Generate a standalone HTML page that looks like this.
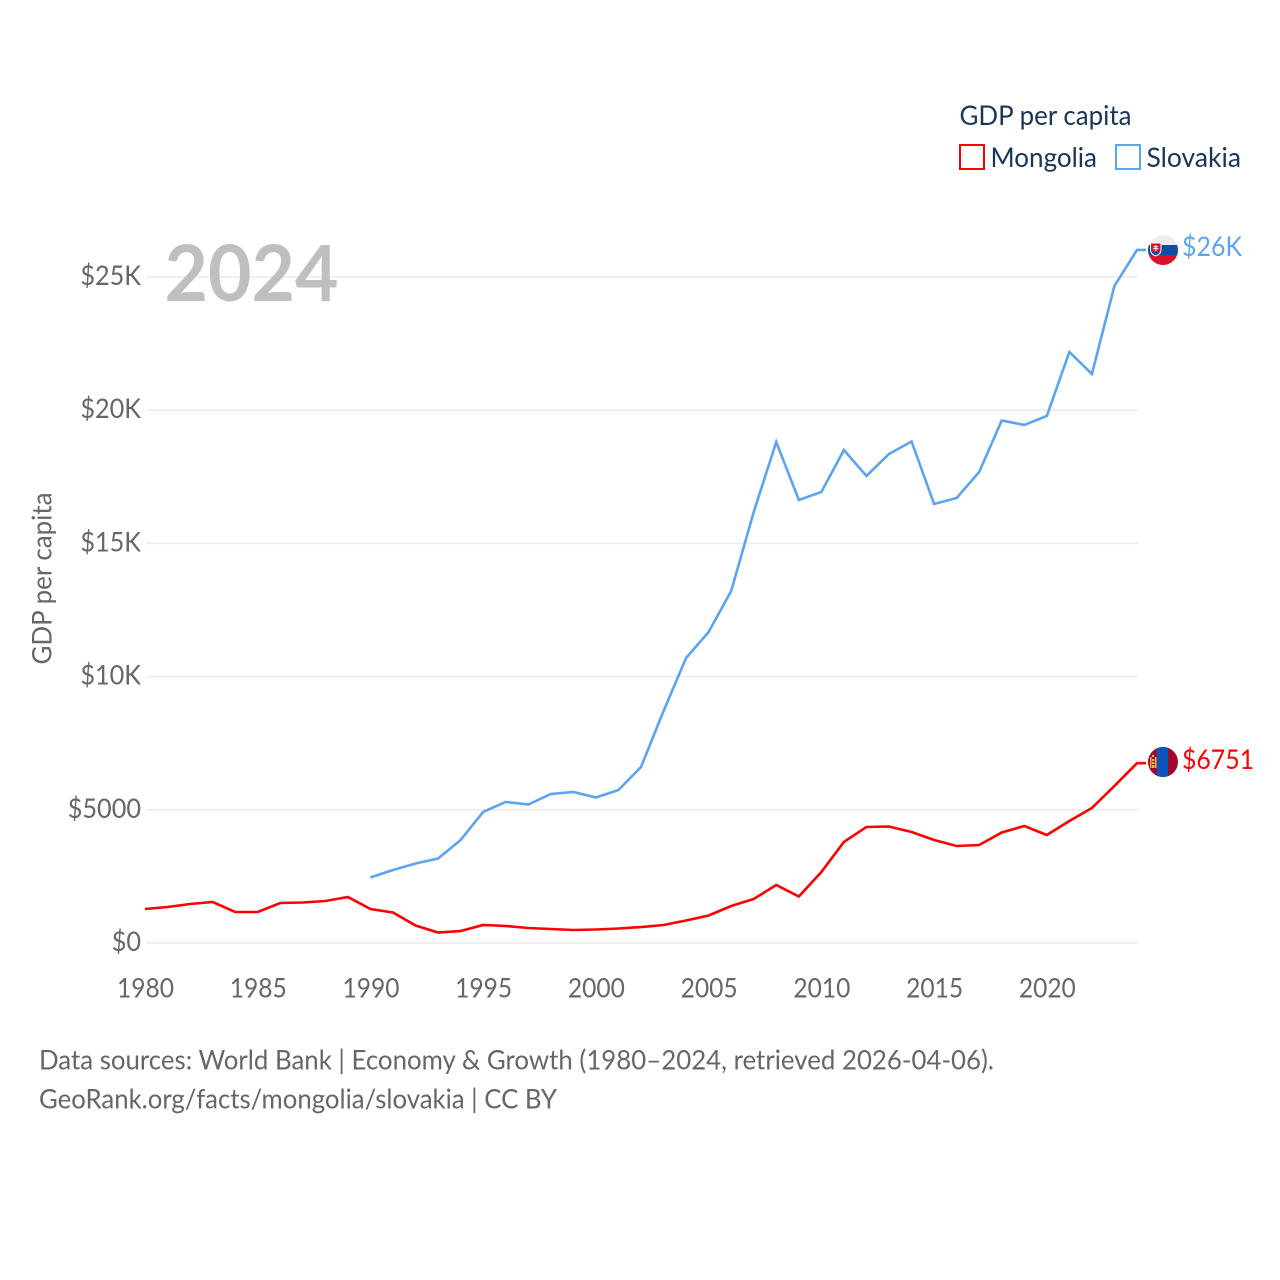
<!DOCTYPE html>
<html lang="en">
<head>
<meta charset="utf-8">
<title>GDP per capita: Mongolia vs Slovakia</title>
<style>
html,body{margin:0;padding:0;background:#fff;}
svg{display:block;}
text{font-family:Lato,Carlito,"Liberation Sans",sans-serif;}
</style>
</head>
<body>
<svg id="chart" xmlns="http://www.w3.org/2000/svg" width="1280" height="1280" viewBox="0 0 1280 1280">
  <defs>
    <clipPath id="clip-sk"><circle cx="1163" cy="250" r="15"></circle></clipPath>
    <clipPath id="clip-mn"><circle cx="1163" cy="762" r="15"></circle></clipPath>
  </defs>
  <g id="grid"></g>
  <text x="164.500" y="301" font-size="78" font-weight="700" fill="#bfbfbf" textLength="174" lengthAdjust="spacingAndGlyphs">2024</text>
  <g id="yticks"></g>
  <g id="xticks"></g>
  <text transform="translate(51.500,578.500) rotate(-90)" text-anchor="middle" font-size="27" fill="#666" textLength="172" lengthAdjust="spacingAndGlyphs">GDP per capita</text>
  <g id="lines"></g>

  <g clip-path="url(#clip-sk)">
    <rect x="1148" y="235" width="30" height="10" fill="#eeeeee"></rect>
    <rect x="1148" y="245" width="30" height="10" fill="#0b4ea2"></rect>
    <rect x="1148" y="255" width="30" height="10" fill="#dc0f2b"></rect>
    <path d="M1150 242.500h11.500v7.500q0 4.500-5.750 6.500q-5.750-2-5.750-6.500z" fill="#fff"></path>
    <path d="M1151 243.500h9.500v6.500q0 3.700-4.750 5.400q-4.750-1.700-4.750-5.400z" fill="#dc0f2b"></path>
    <path d="M1151.800 252q1.500-1.500 2.500-.8q1-1.200 3 0q1-.7 2.400.8q-1.500 2.300-3.950 3q-2.450-.7-3.950-3z" fill="#0b4ea2"></path>
    <path d="M1155.300 245h1v1.200h1.800v1h-1.800v1h2.300v1h-2.300v2h-1v-2h-2.300v-1h2.300v-1h-1.800v-1h1.800z" fill="#fff"></path>
  </g>
  <g clip-path="url(#clip-mn)">
    <rect x="1148" y="747" width="30" height="30" fill="#9c0a2e"></rect>
    <rect x="1157" y="747" width="11" height="30" fill="#0b55bd"></rect>
    <rect x="1150" y="757" width="1.500" height="11" fill="#e8b84a"></rect>
    <rect x="1155" y="757" width="1.500" height="11" fill="#e8b84a"></rect>
    <rect x="1152" y="759" width="2.500" height="2" fill="#e8b84a"></rect>
    <rect x="1152" y="762" width="2.500" height="2" fill="#e8b84a"></rect>
    <rect x="1152" y="765" width="2.500" height="3" fill="#e8b84a"></rect>
    <circle cx="1153" cy="756" r="1.200" fill="#e8b84a"></circle>
  </g>

  <text x="1182" y="256" font-size="27" fill="#5ba4ef" textLength="60" lengthAdjust="spacingAndGlyphs">$26K</text>
  <text x="1182" y="769" font-size="27" fill="#ff0000" textLength="72" lengthAdjust="spacingAndGlyphs">$6751</text>

  <g>
    <text x="959.500" y="125" font-size="27" fill="#1a3557" textLength="172" lengthAdjust="spacingAndGlyphs">GDP per capita</text>
    <g>
      <rect x="960" y="145" width="24" height="24" fill="#fff" stroke="#ff0000" stroke-width="2"></rect>
      <text x="990.500" y="167" font-size="27" fill="#1a3557" textLength="106.500" lengthAdjust="spacingAndGlyphs">Mongolia</text>
    </g>
    <g>
      <rect x="1116" y="145" width="24" height="24" fill="#fff" stroke="#5ba4ef" stroke-width="2"></rect>
      <text x="1146.500" y="167" font-size="27" fill="#1a3557" textLength="94.500" lengthAdjust="spacingAndGlyphs">Slovakia</text>
    </g>
  </g>

  <text x="39" y="1069.500" font-size="27" fill="#666" textLength="955" lengthAdjust="spacingAndGlyphs">Data sources: World Bank | Economy &amp; Growth (1980–2024, retrieved 2026-04-06).</text>
  <text x="39" y="1108.500" font-size="27" fill="#666" textLength="518" lengthAdjust="spacingAndGlyphs">GeoRank.org/facts/mongolia/slovakia | CC BY</text>
</svg>
<script>
const years = [1980,1981,1982,1983,1984,1985,1986,1987,1988,1989,1990,1991,1992,1993,1994,1995,1996,1997,1998,1999,2000,2001,2002,2003,2004,2005,2006,2007,2008,2009,2010,2011,2012,2013,2014,2015,2016,2017,2018,2019,2020,2021,2022,2023,2024];
const mongolia = [1276,1351,1464,1539,1164,1164,1502,1520,1577,1727,1276,1145,657,394,450,676,638,563,526,488,507,544,600,676,845,1032,1389,1652,2177,1746,2665,3792,4355,4373,4167,3867,3641,3679,4148,4392,4054,4580,5068,5894,6751];
const slovakia = [null,null,null,null,null,null,null,null,null,null,2459,2740,2984,3172,3867,4918,5293,5199,5593,5669,5462,5744,6607,8709,10699,11675,13214,16180,18808,16630,16931,18507,17531,18357,18826,16480,16705,17681,19615,19446,19784,22186,21360,24664,26015];
const yTickValues = [0,5000,10000,15000,20000,25000];
const yTickLabels = ["$0","$5000","$10K","$15K","$20K","$25K"];
const xTickValues = [1980,1985,1990,1995,2000,2005,2010,2015,2020];
const xTickLabels = ["1980","1985","1990","1995","2000","2005","2010","2015","2020"];

const NS = "http://www.w3.org/2000/svg";
function xScale(year){ return 146 + (year - 1980) * (1138 - 146) / 44; }
function lineX(year){ return xScale(year) - 1; }
function yScale(v){ return 943 - v * (943 - 277) / 25000; }
function make(tag, attrs, parent){
  const el = document.createElementNS(NS, tag);
  for (const k in attrs) el.setAttribute(k, attrs[k]);
  parent.appendChild(el);
  return el;
}

const grid = document.getElementById('grid');
const yticks = document.getElementById('yticks');
const xticks = document.getElementById('xticks');
const lines = document.getElementById('lines');

yTickValues.forEach(function(v, i){
  const gl = make('line', {x1:146, x2:1138, y1:yScale(v), y2:yScale(v), stroke:'#ebebeb', 'stroke-width':1.5}, grid);
  
  
  const t = make('text', {x:141, y:yScale(v) + 8, 'text-anchor':'end', 'font-size':27, fill:'#666'}, yticks);
  
  
  t.textContent = yTickLabels[i];
  t.setAttribute('textLength', (t.getComputedTextLength() * 0.935).toFixed(2));
  t.setAttribute('lengthAdjust', 'spacingAndGlyphs');
});

xTickValues.forEach(function(v, i){
  const t = make('text', {x:xScale(v) - 0.5, y:997.5, 'text-anchor':'middle', 'font-size':27, fill:'#666', textLength:57, lengthAdjust:'spacingAndGlyphs'}, xticks);
  
  
  t.textContent = xTickLabels[i];
});

function linePath(values){
  let d = '';
  values.forEach(function(v, i){
    if (v === null) return;
    d += (d ? 'L' : 'M') + lineX(years[i]).toFixed(2) + ' ' + yScale(v).toFixed(2);
  });
  const last = values[values.length - 1];
  d += 'L' + (lineX(years[years.length - 1]) + 9).toFixed(2) + ' ' + yScale(last).toFixed(2);
  return d;
}

const skLine = make('path', {d:linePath(slovakia), fill:'none', stroke:'#5ba4ef', 'stroke-width':2.6, 'stroke-linejoin':'miter'}, lines);


const mnLine = make('path', {d:linePath(mongolia), fill:'none', stroke:'#ff0000', 'stroke-width':2.6, 'stroke-linejoin':'miter'}, lines);


</script>
</body>
</html>
